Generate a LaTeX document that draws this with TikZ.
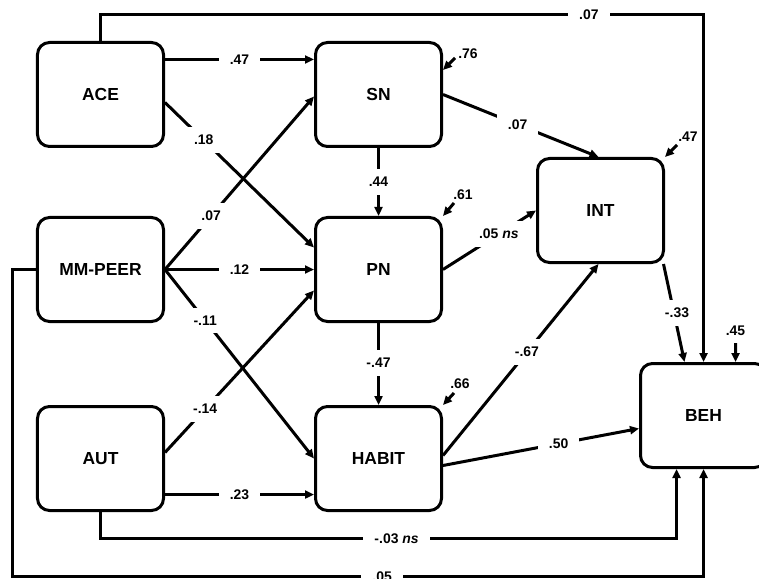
\documentclass[tikz,border=0pt]{standalone}
\usepackage{fontspec}
\setmainfont{Liberation Sans}
\usetikzlibrary{arrows.meta,calc}
\tikzset{
  box/.style={draw, line width=3bp, rounded corners=12bp, minimum width=126bp, minimum height=104bp, inner sep=0pt, font=\fontsize{17.5}{20}\selectfont\bfseries},
  arr/.style={line width=3bp, -{Triangle[length=9bp,width=8bp]}},
  lbl/.style={fill=white, inner xsep=11bp, inner ysep=8bp, font=\fontsize{14}{16}\selectfont\bfseries},
  rlbl/.style={inner sep=0pt, font=\fontsize{14}{16}\selectfont\bfseries}
}
\begin{document}
\begin{tikzpicture}[x=1bp,y=-1bp]
\useasboundingbox (0,0) rectangle (759,579);
% boxes
\node[box] (ace) at (100.5,94.5) {ACE};
\node[box] (mm) at (100.5,269.5) {MM-PEER};
\node[box] (aut) at (100.5,458.5) {AUT};
\node[box] (sn) at (378.5,94.5) {SN};
\node[box] (pn) at (378.5,269.5) {PN};
\node[box] (habit) at (378.5,458.5) {HABIT};
\node[box] (int) at (600.5,210.5) {INT};
\node[box] (beh) at (703.5,415.5) {BEH};
% helper coordinates
\coordinate (ytop) at (0,14.5);
\coordinate (ylow) at (0,538.5);
\coordinate (ybot) at (0,576.5);
\coordinate (xleft) at (12.5,0);
% connectors
\draw[arr] ([yshift=35bp]ace.east) -- node[lbl]{.47} ([yshift=35bp]sn.west);
\draw[arr] ([yshift=-8bp]ace.east) -- node[lbl,pos=0.26]{.18} ([yshift=22bp]pn.west);
\draw[arr] (mm.east) -- node[lbl,pos=0.31]{.07} ([yshift=-2bp]sn.west);
\draw[arr] (mm.east) -- node[lbl]{.12} (pn.west);
\draw[arr] (mm.east) -- node[lbl,pos=0.27]{-.11} (habit.west);
\draw[arr] ([yshift=6bp]aut.east) -- node[lbl,pos=0.27]{-.14} ([yshift=-21bp]pn.west);
\draw[arr] ([yshift=-36bp]aut.east) -- node[lbl]{.23} ([yshift=-36bp]habit.west);
\draw[arr] (sn.south) -- node[lbl]{.44} (pn.north);
\draw[arr] (pn.south) -- node[lbl,pos=0.49]{-.47} (habit.north);
\draw[arr] (sn.east) -- node[lbl,pos=0.48]{.07} ([xshift=-2bp]int.north);
\draw[arr] (pn.east) -- node[lbl,pos=0.6]{.05 \textit{ns}} (int.west);
\draw[arr] ([yshift=3bp]habit.east) -- node[lbl,pos=0.54]{-.67} ([xshift=-2bp]int.south);
\draw[arr] ([yshift=-7bp]habit.east) -- node[lbl,pos=0.59]{.50} ([yshift=-13bp]beh.west);
\draw[arr] ([xshift=63bp]int.south) -- node[lbl,pos=0.5,xshift=3bp]{-.33} ([xshift=-19bp]beh.north);
\draw[arr] (ace.north) -- (ace.north |- ytop) -- node[lbl,pos=0.81]{.07} (beh.north |- ytop) -- (beh.north);
\draw[arr] (aut.south) -- (aut.south |- ylow) -- node[lbl,pos=0.514]{-.03 \textit{ns}} ([xshift=-27bp]beh.south |- ylow) -- ([xshift=-27bp]beh.south);
\draw[arr] (mm.west) -- (mm.west -| xleft) -- (xleft |- ybot) -- node[lbl,pos=0.535]{.05} (beh.south |- ybot) -- (beh.south);
% residuals
\node[rlbl] (e1) at (468,54) {.76};
\node[rlbl] (e2) at (463,195) {.61};
\node[rlbl] (e3) at (688,137) {.47};
\node[rlbl] (e4) at (460,384) {.66};
\node[rlbl] (e5) at (735.5,331) {.45};
\coordinate (s1) at (455,58);
\coordinate (s2) at (454,203);
\coordinate (s3) at (677,145);
\coordinate (s4) at (454,393);
\coordinate (s5) at (735.5,343);
\draw[arr] (s1) -- ([yshift=-29bp]sn.north east);
\draw[arr] (s2) -- (pn.north east);
\draw[arr] (s3) -- (int.north east);
\draw[arr] (s4) -- (habit.north east);
\draw[arr] (s5) -- ([xshift=32bp]beh.north);
\end{tikzpicture}
\end{document}
